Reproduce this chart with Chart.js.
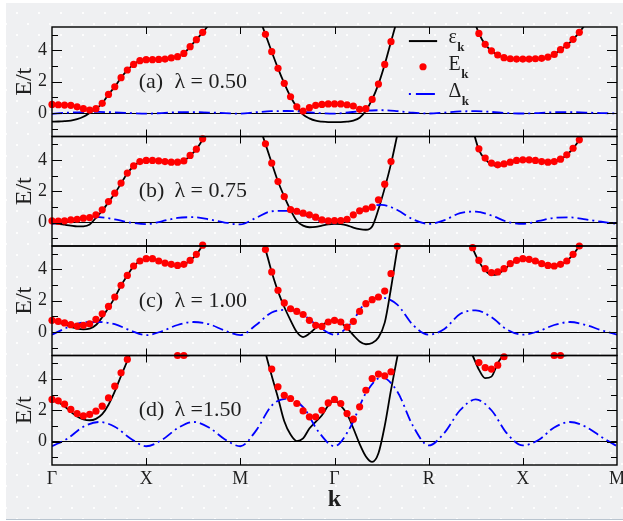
<!DOCTYPE html>
<html>
<head>
<meta charset="utf-8">
<script src="https://cdn.jsdelivr.net/npm/chart.js@4.4.1/dist/chart.umd.min.js"></script>
<style>
  html, body { margin: 0; padding: 0; background: #fff; }
  #wrap { position: relative; width: 623px; height: 521px; overflow: hidden; }
  #paper {
    position: absolute; left: 6px; top: 3px; width: 617px; height: 516px;
    background-color: #eff0f2;
    background-image: radial-gradient(circle, #fdfdfd 0.9px, rgba(255,255,255,0) 1.4px),
                      radial-gradient(circle, #fdfdfd 0.9px, rgba(255,255,255,0) 1.4px);
    background-size: 22px 22px;
    background-position: 0 -1px, 11px 10px;
    border-bottom: 1px solid #b9c4cf;
  }
  #chart { position: absolute; left: 0; top: 0; }
</style>
</head>
<body>
<div id="wrap">
  <div id="paper"></div>
  <canvas id="chart" width="623" height="521"></canvas>
</div>
<script>
const symLabels = ['Γ', 'X', 'M', 'Γ', 'R', 'X', 'M'];
const panelTags = ['(a)', '(b)', '(c)', '(d)'];
const lambdaText = ['λ = 0.50', 'λ = 0.75', 'λ = 1.00', 'λ =1.50'];
const yTickValues = [-1, 0, 1, 2, 3, 4, 5];

// E_k and eps_k are sampled every 1/15 of a path segment, one row per segment
const fineStep = 1 / 15;
// Delta_k is sampled every 1/6 of a segment
const gapStep = 1 / 6;

const E_a = [
  0.55, 0.53, 0.51, 0.49, 0.40, 0.28, 0.19, 0.28, 0.62, 1.19, 1.68, 2.26, 2.75, 3.11, 3.35,
  3.41, 3.41, 3.43, 3.45, 3.52, 3.60, 3.81, 4.24, 4.69, 5.16, null, null, null, null, null,
  null, null, null, null, 5.03, 3.92, 2.86, 1.90, 1.04, 0.40, 0.13, 0.34, 0.49, 0.55, 0.58,
  0.58, 0.58, 0.53, 0.45, 0.24, 0.28, 0.87, 1.85, 3.11, 4.56, null, null, null, null, null,
  null, null, null, null, null, null, null, null, 5.09, 4.39, 3.98, 3.71, 3.54, 3.47, 3.45,
  3.45, 3.45, 3.47, 3.50, 3.58, 3.75, 4.05, 4.33, 4.71, 5.16, null, null, null, null, null,
  null
];
const eps_a = [
  -0.55, -0.54, -0.52, -0.48, -0.39, -0.24, 0.00, 0.27, 0.62, 1.19, 1.68, 2.26, 2.75, 3.11, 3.35,
  3.41, 3.41, 3.43, 3.45, 3.52, 3.60, 3.81, 4.24, 4.69, 5.16, 5.65, 6.2, null, null, null,
  null, null, null, 6.1, 5.03, 3.92, 2.86, 1.90, 1.04, 0.38, -0.10, -0.34, -0.49, -0.55, -0.58,
  -0.58, -0.58, -0.55, -0.48, -0.30, 0.15, 0.87, 1.85, 3.11, 4.56, 6.0, null, null, null, null,
  null, null, null, null, null, null, null, 6.2, 5.09, 4.39, 3.98, 3.71, 3.54, 3.47, 3.45,
  3.45, 3.45, 3.47, 3.50, 3.58, 3.75, 4.05, 4.33, 4.71, 5.16, 5.7, 6.3, null, null, null,
  null
];
const gap_a = [
  -0.05, 0.02, 0.06, 0.07, 0.04, 0.00,
  -0.04, 0.00, 0.05, 0.06, 0.03, 0.00,
  -0.04, 0.05, 0.12, 0.13, 0.08, 0.00,
  -0.04, 0.05, 0.15, 0.18, 0.12, 0.02,
  -0.03, 0.03, 0.10, 0.12, 0.07, 0.00,
  -0.03, 0.00, 0.05, 0.06, 0.03, 0.00,
  -0.03
];

const E_b = [
  0.11, 0.09, 0.11, 0.17, 0.21, 0.28, 0.32, 0.49, 0.81, 1.34, 1.88, 2.52, 3.16, 3.62, 3.90,
  3.97, 3.97, 3.94, 3.90, 3.86, 3.86, 3.94, 4.29, 4.69, 5.35, null, null, null, null, null,
  null, null, null, null, 5.03, 3.80, 2.62, 1.66, 0.82, 0.72, 0.60, 0.49, 0.34, 0.17, 0.11,
  0.13, 0.13, 0.21, 0.49, 0.75, 0.87, 0.98, 1.45, 2.45, 3.90, null, null, null, null, null,
  null, null, null, null, null, null, null, null, 4.71, 4.12, 3.80, 3.69, 3.75, 3.86, 3.97,
  4.01, 4.01, 3.97, 3.90, 3.86, 3.90, 4.05, 4.33, 4.75, 5.29, null, null, null, null, null,
  null
];
const eps_b = [
  -0.03, -0.08, -0.14, -0.20, -0.25, -0.24, -0.12, 0.30, 0.75, 1.30, 1.85, 2.50, 3.15, 3.60, 3.88,
  3.96, 3.96, 3.93, 3.89, 3.85, 3.85, 3.93, 4.28, 4.68, 5.30, 5.9, null, null, null, null,
  null, null, null, 6.2, 5.03, 3.80, 2.62, 1.66, 0.80, 0.10, -0.20, -0.30, -0.28, -0.20, -0.12,
  -0.08, -0.10, -0.18, -0.32, -0.42, -0.46, -0.25, 0.85, 2.20, 3.75, 5.6, null, null, null, null,
  null, null, null, null, null, null, null, 6.0, 4.65, 4.05, 3.72, 3.62, 3.70, 3.83, 3.96,
  4.01, 4.00, 3.96, 3.88, 3.84, 3.88, 4.04, 4.32, 4.74, 5.28, 5.9, null, null, null, null,
  null
];
const gap_b = [
  -0.09, 0.10, 0.30, 0.34, 0.20, 0.00,
  -0.10, 0.08, 0.30, 0.34, 0.20, 0.00,
  -0.12, 0.30, 0.72, 0.75, 0.50, 0.12,
  -0.05, 0.30, 0.95, 1.13, 0.80, 0.20,
  -0.09, 0.15, 0.60, 0.70, 0.45, 0.05,
  -0.09, 0.10, 0.30, 0.33, 0.20, 0.05,
  -0.09
];

const E_c = [
  0.75, 0.68, 0.58, 0.47, 0.38, 0.43, 0.53, 0.81, 1.17, 1.64, 2.24, 2.99, 3.62, 4.22, 4.54,
  4.69, 4.69, 4.54, 4.41, 4.33, 4.26, 4.33, 4.58, 4.97, 5.55, null, null, null, null, null,
  null, null, null, null, 5.27, 3.84, 2.67, 1.86, 1.49, 1.32, 1.12, 0.75, 0.43, 0.36, 0.64,
  0.75, 0.64, 0.32, 0.68, 1.32, 1.81, 2.07, 2.24, 2.62, 3.73, 5.48, null, null, null, null,
  null, null, null, null, null, null, null, 5.39, 4.58, 4.05, 3.80, 3.84, 4.05, 4.37, 4.58,
  4.69, 4.65, 4.54, 4.37, 4.26, 4.22, 4.33, 4.54, 4.97, 5.50, null, null, null, null, null,
  null
];
const eps_c = [
  0.73, 0.62, 0.48, 0.33, 0.22, 0.17, 0.22, 0.45, 0.95, 1.55, 2.20, 2.97, 3.61, 4.21, 4.53,
  4.68, 4.68, 4.53, 4.40, 4.32, 4.25, 4.32, 4.57, 4.96, 5.55, 6.1, null, null, null, null,
  null, null, null, 6.3, 5.27, 3.84, 2.60, 1.60, 0.75, 0.00, -0.32, -0.10, 0.25, 0.45, 0.65,
  0.72, 0.60, 0.25, -0.20, -0.60, -0.78, -0.70, -0.35, 0.60, 2.80, 5.30, 7.5, null, null, null,
  null, null, null, null, null, null, 6.3, 5.35, 4.50, 3.95, 3.65, 3.70, 3.98, 4.33, 4.56,
  4.68, 4.64, 4.53, 4.36, 4.25, 4.21, 4.32, 4.53, 4.96, 5.50, 6.2, null, null, null, null,
  null
];
const gap_c = [
  -0.17, 0.30, 0.62, 0.64, 0.50, 0.10,
  -0.20, 0.05, 0.45, 0.64, 0.50, 0.10,
  -0.20, 0.45, 1.25, 1.42, 1.10, 0.35,
  -0.17, 0.50, 1.90, 2.20, 1.75, 0.45,
  -0.17, 0.20, 1.15, 1.39, 0.95, 0.15,
  -0.17, 0.05, 0.45, 0.64, 0.45, 0.12,
  -0.17
];

const E_d = [
  2.69, 2.60, 2.39, 2.05, 1.79, 1.64, 1.73, 1.94, 2.26, 2.79, 3.54, 4.39, 5.25, null, null,
  null, null, null, null, null, 5.50, 5.50, null, null, null, null, null, null, null, null,
  null, null, null, null, null, 4.63, 3.50, 2.96, 2.75, 2.43, 1.96, 1.58, 1.58, 2.00, 2.47,
  2.69, 2.43, 1.79, 1.43, 2.22, 3.28, 4.03, 4.31, 4.20, 4.46, null, null, null, null, null,
  null, null, null, null, null, null, null, null, 5.05, 4.73, 4.63, 4.88, 5.42, null, null,
  null, null, null, null, null, 5.50, 5.50, null, null, null, null, null, null, null, null,
  null
];
const eps_d = [
  2.60, 2.50, 2.25, 1.90, 1.60, 1.42, 1.36, 1.45, 1.75, 2.35, 3.20, 4.20, 5.15, 6.1, null,
  null, null, null, 5.90, 5.62, 5.52, 5.48, 5.52, 5.65, 5.90, null, null, null, null, null,
  null, null, null, 7.5, 5.70, 4.20, 2.80, 1.30, 0.45, 0.03, 0.20, 0.83, 1.26, 1.68, 2.30,
  2.60, 2.30, 1.75, 0.85, -0.15, -0.95, -1.30, -0.75, 1.00, 3.30, 5.40, 7.5, null, null, null,
  null, null, null, null, null, null, 6.3, 5.50, 4.60, 4.05, 4.15, 5.00, 5.65, 6.5, null,
  null, null, null, 6.00, 5.70, 5.52, 5.48, 5.52, 5.70, 6.00, null, null, null, null, null,
  null
];
const gap_d = [
  -0.30, 0.20, 0.95, 1.25, 0.95, 0.20,
  -0.30, 0.10, 0.85, 1.25, 0.90, 0.15,
  -0.30, 0.70, 2.30, 2.75, 2.20, 0.60,
  -0.30, 0.90, 3.10, 4.10, 3.20, 1.00,
  -0.25, 0.55, 2.00, 2.69, 2.00, 0.50,
  -0.25, 0.10, 0.90, 1.25, 0.95, 0.30,
  -0.30
];

const serif = '"Liberation Serif", "Times New Roman", serif';
const textColor = '#1e1e1e';

const panels = [
  { id: 'ya', eps: eps_a, E: E_a, gap: gap_a },
  { id: 'yb', eps: eps_b, E: E_b, gap: gap_b },
  { id: 'yc', eps: eps_c, E: E_c, gap: gap_c },
  { id: 'yd', eps: eps_d, E: E_d, gap: gap_d }
];

function toPoints(arr, step) {
  return arr.map((v, i) => ({ x: i * step, y: v }));
}

const datasets = [];
panels.forEach(p => {
  datasets.push({
    label: 'eps', yAxisID: p.id, data: toPoints(p.eps, fineStep),
    borderColor: '#000', borderWidth: 1.8, pointRadius: 0,
    cubicInterpolationMode: 'monotone', order: 3, panelClip: true
  });
  datasets.push({
    label: 'gap', yAxisID: p.id, data: toPoints(p.gap, gapStep),
    borderColor: '#0000ff', borderWidth: 1.8, borderDash: [11, 4, 2, 4], pointRadius: 0,
    cubicInterpolationMode: 'monotone', order: 2, panelClip: true
  });
  datasets.push({
    label: 'E', yAxisID: p.id, data: toPoints(p.E, fineStep),
    showLine: false, pointRadius: 3.6, pointBackgroundColor: '#ff0000',
    pointBorderWidth: 0, order: 1, clip: 5
  });
});

function yAxis(j) {
  return {
    type: 'linear', position: 'left', stack: 'panels', stackWeight: 1, weight: 4 - j,
    min: -1.5, max: 5.5,
    afterBuildTicks: s => { s.ticks = yTickValues.map(v => ({ value: v })); },
    afterFit: s => { s.width = 52; s.paddingTop = 0; s.paddingBottom = 0; },
    border: { display: false },
    grid: {
      drawTicks: false, lineWidth: 1,
      color: c => (c.tick && c.tick.value === 0) ? '#000' : 'rgba(0,0,0,0)'
    },
    ticks: {
      autoSkip: false, padding: 5, color: textColor,
      font: { family: serif, size: 18 },
      callback: v => (v >= 0 && v % 2 === 0) ? String(v) : ''
    },
    title: {
      display: true, text: 'E/t', color: textColor,
      font: { family: serif, size: 24 }, padding: { top: 10.5, bottom: 0 }
    }
  };
}

const scales = {
  x: {
    type: 'linear', position: 'bottom', min: 0, max: 6,
    afterBuildTicks: s => { s.ticks = symLabels.map((_, i) => ({ value: i })); },
    afterFit: s => { s.height = 56; s.paddingLeft = 0; s.paddingRight = 0; },
    border: { display: false },
    grid: { display: false, drawTicks: false },
    ticks: {
      autoSkip: false, maxRotation: 0, padding: 3, color: textColor,
      font: { family: serif, size: 18 },
      callback: v => symLabels[v] !== undefined ? symLabels[v] : ''
    },
    title: {
      display: true, text: 'k', color: textColor,
      font: { family: serif, size: 24, weight: 'bold' }, padding: { top: 0, bottom: 7 }
    }
  }
};
panels.forEach((p, j) => { scales[p.id] = yAxis(j); });

// keep each curve inside its own panel
const panelClip = {
  id: 'panelClip',
  beforeDatasetDraw(chart, args) {
    const ds = chart.data.datasets[args.index];
    if (!ds.panelClip) return;
    const ys = chart.scales[ds.yAxisID];
    const a = chart.chartArea;
    chart.ctx.save();
    chart.ctx.beginPath();
    chart.ctx.rect(a.left, ys.top, a.right - a.left, ys.bottom - ys.top);
    chart.ctx.clip();
  },
  afterDatasetDraw(chart, args) {
    if (chart.data.datasets[args.index].panelClip) chart.ctx.restore();
  }
};

// frames, inward ticks, panel captions and the key
const decor = {
  id: 'decor',
  afterDatasetsDraw(chart) {
    const ctx = chart.ctx;
    const a = chart.chartArea;
    const xs = chart.scales.x;
    ctx.save();
    ctx.strokeStyle = '#000';
    ctx.fillStyle = textColor;
    panels.forEach((p, j) => {
      const ys = chart.scales[p.id];
      ctx.lineWidth = 1;
      ctx.beginPath();
      yTickValues.forEach(v => {
        const y = Math.round(ys.getPixelForValue(v)) + 0.5;
        const len = v % 2 === 0 ? 10 : 6;
        ctx.moveTo(a.left, y); ctx.lineTo(a.left + len, y);
        ctx.moveTo(a.right - len, y); ctx.lineTo(a.right, y);
      });
      for (let k = 1; k < symLabels.length - 1; k++) {
        const x = Math.round(xs.getPixelForValue(k)) + 0.5;
        ctx.moveTo(x, ys.top); ctx.lineTo(x, ys.top + 7);
        ctx.moveTo(x, ys.bottom); ctx.lineTo(x, ys.bottom - 7);
      }
      ctx.stroke();
      ctx.lineWidth = 1.4;
      ctx.strokeRect(a.left, ys.top, a.right - a.left, ys.bottom - ys.top);

      ctx.font = '22px ' + serif;
      ctx.textBaseline = 'middle';
      ctx.textAlign = 'left';
      const yMid = ys.getPixelForValue(2);
      ctx.fillText(panelTags[j], xs.getPixelForValue(0.92), yMid);
      ctx.fillText(lambdaText[j], xs.getPixelForValue(1.30), yMid);
    });

    // key, inside panel (a)
    const ya = chart.scales.ya;
    const x0 = xs.getPixelForValue(3.79), x1 = xs.getPixelForValue(4.09);
    const xt = xs.getPixelForValue(4.21);
    ctx.textBaseline = 'alphabetic';

    let y = ya.getPixelForValue(4.6);
    ctx.lineWidth = 2;
    ctx.beginPath(); ctx.moveTo(x0, y); ctx.lineTo(x1, y); ctx.stroke();
    y = ya.getPixelForValue(2.96);
    ctx.fillStyle = '#ff0000';
    ctx.beginPath(); ctx.arc((x0 + x1) / 2, y, 3.6, 0, Math.PI * 2); ctx.fill();
    y = ya.getPixelForValue(1.21);
    ctx.strokeStyle = '#0000ff';
    ctx.setLineDash([2, 5, 19, 5]);
    ctx.beginPath(); ctx.moveTo(x0, y); ctx.lineTo(x1, y); ctx.stroke();
    ctx.setLineDash([]);

    ctx.fillStyle = textColor;
    const keys = [['ε', 4.48], ['E', 2.75], ['Δ', 1.04]];
    keys.forEach(([sym, v]) => {
      const by = ya.getPixelForValue(v);
      ctx.font = '20px ' + serif;
      ctx.fillText(sym, xt, by);
      const w = ctx.measureText(sym).width;
      ctx.font = 'bold 13px ' + serif;
      ctx.fillText('k', xt + w + 0.5, by + 8);
    });
    ctx.restore();
  }
};

new Chart(document.getElementById('chart'), {
  type: 'line',
  data: { datasets },
  options: {
    responsive: false,
    animation: false,
    devicePixelRatio: 1,
    layout: { padding: { left: 0, top: 27, right: 6, bottom: 0 } },
    scales,
    plugins: { legend: { display: false }, tooltip: { enabled: false } }
  },
  plugins: [panelClip, decor]
});
</script>
</body>
</html>
